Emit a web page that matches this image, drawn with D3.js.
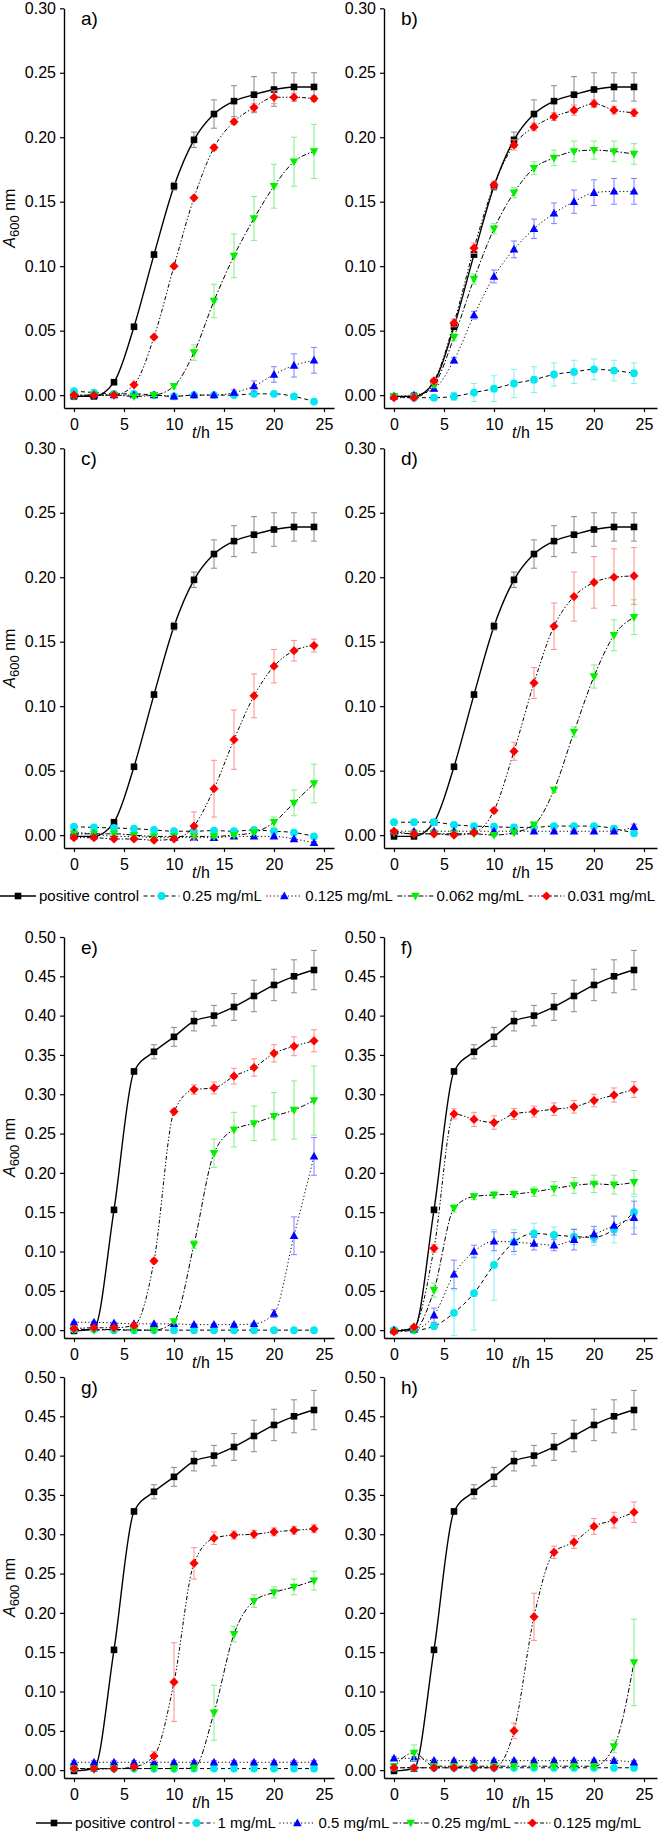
<!DOCTYPE html>
<html><head><meta charset="utf-8">
<script src="https://cdn.jsdelivr.net/npm/d3@7"></script>
<style>
body{margin:0;background:#fff;}
svg{display:block;font-family:"Liberation Sans",Arial,sans-serif;}
</style></head><body>
<svg id="chart" width="658" height="1834"></svg>
<script>
// ---------------- data ----------------
const timeH = [0,2,4,6,8,10,12,14,16,18,20,22,24];
const xTicks = [0,5,10,15,20,25];
const yTicksLow = [0,0.05,0.10,0.15,0.20,0.25,0.30];
const yTicksHigh = [0,0.05,0.10,0.15,0.20,0.25,0.30,0.35,0.40,0.45,0.50];
const legendTop = ["positive control","0.25 mg/mL","0.125 mg/mL","0.062 mg/mL","0.031 mg/mL"];
const legendBottom = ["positive control","1 mg/mL","0.5 mg/mL","0.25 mg/mL","0.125 mg/mL"];
const panelLabels = ["a)","b)","c)","d)","e)","f)","g)","h)"];

// positive controls
const ctrl1 = [-0.001,-0.001,0.010,0.053,0.109,0.162,0.198,0.218,0.228,0.233,0.237,0.239,0.239];
const ctrl1Err = [0.001,0.001,0.001,0.002,0.002,0.003,0.006,0.011,0.012,0.014,0.013,0.011,0.011];
const ctrl2 = [-0.001,0.002,0.153,0.329,0.354,0.373,0.393,0.400,0.411,0.425,0.439,0.450,0.458];
const ctrl2Err = [0.001,0.002,0.003,0.003,0.009,0.012,0.0125,0.013,0.017,0.020,0.020,0.021,0.025];

// panel a
const aCyan = [0.003,0.002,0.001,0.001,0.000,-0.001,0.000,0.000,0.000,0.001,0.001,-0.001,-0.005];
const aCyanErr = [0.001,0.001,0.001,0.001,0.001,0.001,0.001,0.001,0.001,0.001,0.001,0.001,0.001];
const aBlue = [0.000,0.000,0.000,0.000,0.000,-0.001,0.000,0.000,0.002,0.007,0.016,0.023,0.027];
const aBlueErr = [0.001,0.001,0.001,0.001,0.001,0.001,0.001,0.001,0.002,0.004,0.006,0.009,0.010];
const aGreen = [-0.001,0.000,0.000,-0.001,0.000,0.007,0.033,0.073,0.108,0.137,0.162,0.181,0.189];
const aGreenErr = [0.001,0.001,0.001,0.001,0.001,0.002,0.006,0.013,0.017,0.017,0.017,0.019,0.021];
const aRed = [0.000,0.000,0.000,0.008,0.045,0.100,0.153,0.192,0.212,0.223,0.231,0.231,0.230];
const aRedErr = [0.001,0.001,0.001,0.001,0.001,0.001,0.001,0.002,0.002,0.003,0.005,0.003,0.002];
// panel b
const bCyan = [-0.001,-0.002,-0.002,-0.001,0.002,0.005,0.009,0.012,0.016,0.018,0.020,0.019,0.017];
const bCyanErr = [0.002,0.002,0.002,0.003,0.007,0.010,0.011,0.010,0.009,0.009,0.008,0.008,0.008];
const bBlue = [-0.001,0.000,0.005,0.027,0.062,0.092,0.113,0.129,0.141,0.150,0.157,0.158,0.158];
const bBlueErr = [0.002,0.002,0.002,0.002,0.003,0.005,0.0065,0.0075,0.008,0.009,0.010,0.010,0.010];
const bGreen = [-0.001,-0.001,0.008,0.045,0.090,0.129,0.157,0.176,0.184,0.189,0.190,0.189,0.187];
const bGreenErr = [0.001,0.001,0.002,0.003,0.004,0.004,0.004,0.005,0.006,0.008,0.007,0.008,0.008];
const bRed = [-0.002,-0.002,0.011,0.056,0.114,0.163,0.194,0.208,0.216,0.221,0.226,0.221,0.219];
const bRedErr = [0.001,0.001,0.002,0.003,0.004,0.003,0.004,0.003,0.003,0.004,0.003,0.003,0.003];
// panel c
const cCyan = [0.0065,0.006,0.0055,0.005,0.004,0.003,0.003,0.0035,0.003,0.004,0.003,0.002,-0.001];
const cCyanErr = [0.001,0.001,0.001,0.001,0.001,0.001,0.001,0.001,0.001,0.001,0.001,0.001,0.001];
const cBlue = [0.002,0.001,-0.001,-0.001,-0.002,-0.002,-0.002,-0.002,-0.001,-0.001,-0.001,-0.003,-0.006];
const cBlueErr = [0.001,0.001,0.001,0.001,0.001,0.001,0.001,0.001,0.001,0.001,0.001,0.001,0.001];
const cGreen = [0.001,0.001,0.001,0.000,-0.001,-0.001,-0.001,-0.001,0.000,0.002,0.010,0.025,0.040];
const cGreenErr = [0.001,0.001,0.001,0.001,0.001,0.001,0.001,0.001,0.001,0.001,0.004,0.010,0.015];
const cRed = [-0.002,-0.002,-0.003,-0.003,-0.004,-0.003,0.007,0.036,0.074,0.108,0.131,0.143,0.147];
const cRedErr = [0.001,0.001,0.001,0.001,0.001,0.001,0.011,0.022,0.023,0.017,0.013,0.008,0.005];
// panel d
const dCyan = [0.010,0.010,0.010,0.008,0.007,0.0065,0.006,0.006,0.007,0.007,0.007,0.005,0.0015];
const dCyanErr = [0.002,0.002,0.002,0.002,0.002,0.002,0.002,0.002,0.002,0.002,0.002,0.002,0.002];
const dBlue = [0.003,0.003,0.003,0.003,0.003,0.003,0.003,0.003,0.003,0.003,0.003,0.003,0.0065];
const dBlueErr = [0.001,0.001,0.001,0.001,0.001,0.001,0.001,0.001,0.001,0.001,0.001,0.001,0.002];
const dGreen = [0.002,0.001,0.001,0.001,0.001,0.000,0.002,0.008,0.035,0.080,0.123,0.155,0.169];
const dGreenErr = [0.001,0.001,0.001,0.001,0.001,0.001,0.001,0.002,0.002,0.004,0.009,0.012,0.0135];
const dRed = [0.003,0.001,0.001,0.000,0.002,0.019,0.065,0.118,0.162,0.185,0.196,0.200,0.201];
const dRedErr = [0.001,0.001,0.001,0.001,0.001,0.002,0.007,0.012,0.018,0.019,0.020,0.022,0.022];
// panel e
const eCyan = [0.001,0.001,0.000,0.000,0.000,0.000,0.000,0.000,0.000,0.000,0.000,0.000,0.000];
const eCyanErr = [0.001,0.001,0.001,0.001,0.001,0.001,0.001,0.001,0.001,0.001,0.001,0.001,0.001];
const eBlue = [0.010,0.010,0.009,0.008,0.008,0.008,0.007,0.007,0.007,0.008,0.021,0.120,0.221];
const eBlueErr = [0.001,0.001,0.001,0.001,0.001,0.001,0.001,0.001,0.001,0.001,0.005,0.024,0.024];
const eGreen = [0.001,0.000,0.001,0.000,0.000,0.011,0.109,0.225,0.255,0.263,0.272,0.280,0.292];
const eGreenErr = [0.001,0.001,0.001,0.001,0.001,0.002,0.005,0.018,0.022,0.022,0.030,0.037,0.044];
const eRed = [0.002,0.003,0.003,0.006,0.088,0.278,0.306,0.308,0.323,0.334,0.352,0.361,0.368];
const eRedErr = [0.001,0.001,0.001,0.002,0.003,0.003,0.006,0.0075,0.010,0.011,0.011,0.012,0.014];
// panel f
const fCyan = [0.000,0.000,0.005,0.022,0.047,0.083,0.112,0.123,0.121,0.119,0.118,0.128,0.150];
const fCyanErr = [0.001,0.001,0.003,0.029,0.047,0.045,0.016,0.013,0.010,0.010,0.010,0.017,0.020];
const fBlue = [0.000,0.001,0.019,0.071,0.100,0.113,0.112,0.110,0.108,0.115,0.122,0.133,0.143];
const fBlueErr = [0.001,0.001,0.009,0.018,0.008,0.012,0.012,0.008,0.007,0.013,0.010,0.012,0.021];
const fGreen = [-0.002,0.000,0.051,0.155,0.170,0.172,0.173,0.176,0.180,0.184,0.186,0.185,0.188];
const fGreenErr = [0.001,0.001,0.009,0.005,0.004,0.004,0.004,0.006,0.009,0.010,0.011,0.012,0.015];
const fRed = [-0.002,0.004,0.104,0.275,0.268,0.264,0.275,0.278,0.281,0.284,0.292,0.299,0.306];
const fRedErr = [0.001,0.002,0.005,0.0065,0.009,0.0085,0.007,0.007,0.008,0.008,0.008,0.009,0.010];
// panel g
const gCyan = [0.002,0.002,0.002,0.002,0.002,0.002,0.002,0.002,0.002,0.002,0.002,0.002,0.002];
const gCyanErr = [0.001,0.001,0.001,0.001,0.001,0.001,0.001,0.001,0.001,0.001,0.001,0.001,0.001];
const gBlue = [0.010,0.010,0.010,0.010,0.010,0.010,0.010,0.010,0.010,0.010,0.010,0.010,0.010];
const gBlueErr = [0.002,0.002,0.002,0.002,0.002,0.002,0.002,0.002,0.002,0.002,0.002,0.002,0.002];
const gGreen = [0.002,0.001,0.002,0.002,0.002,0.002,0.003,0.073,0.173,0.215,0.226,0.233,0.241];
const gGreenErr = [0.001,0.001,0.001,0.001,0.001,0.001,0.002,0.035,0.010,0.008,0.007,0.010,0.012];
const gRed = [0.002,0.002,0.002,0.004,0.018,0.112,0.263,0.295,0.299,0.300,0.303,0.305,0.307];
const gRedErr = [0.001,0.001,0.001,0.002,0.006,0.050,0.020,0.008,0.005,0.005,0.005,0.005,0.005];
// panel h
const hCyan = [0.003,0.003,0.003,0.003,0.003,0.003,0.003,0.003,0.003,0.003,0.003,0.003,0.003];
const hCyanErr = [0.001,0.001,0.001,0.001,0.001,0.001,0.001,0.001,0.001,0.001,0.001,0.001,0.001];
const hBlue = [0.015,0.015,0.012,0.012,0.012,0.012,0.012,0.012,0.012,0.012,0.012,0.012,0.010];
const hBlueErr = [0.002,0.002,0.002,0.002,0.002,0.002,0.002,0.002,0.002,0.002,0.002,0.002,0.002];
const hGreen = [0.005,0.022,0.005,0.005,0.005,0.005,0.005,0.005,0.005,0.005,0.005,0.030,0.137];
const hGreenErr = [0.002,0.010,0.002,0.002,0.002,0.002,0.002,0.002,0.002,0.002,0.002,0.008,0.055];
const hRed = [0.003,0.003,0.003,0.003,0.003,0.003,0.050,0.195,0.277,0.290,0.310,0.318,0.328];
const hRedErr = [0.001,0.001,0.001,0.001,0.001,0.001,0.010,0.030,0.008,0.008,0.010,0.010,0.013];

// ---------------- styles ----------------
const styles = {
  ctrl:  {fill:"#000000", err:"#8a8a8a", dash:null, width:1.4, shape:"square"},
  cyan:  {fill:"#00e8f0", err:"#7ff0f4", dash:"4,3", width:1, shape:"circle"},
  blue:  {fill:"#0000ff", err:"#8080ff", dash:"1.2,2.4", width:1, shape:"up"},
  green: {fill:"#00f000", err:"#80f080", dash:"5,2,1.5,2", width:1, shape:"down"},
  red:   {fill:"#ff0000", err:"#ff8c8c", dash:"4,2,1.4,2,1.4,2", width:1, shape:"diamond"}
};
const order = ["ctrl","cyan","blue","green","red"];

const panels = [
  {col:0,row:0,ctrl:[ctrl1,ctrl1Err],cyan:[aCyan,aCyanErr],blue:[aBlue,aBlueErr],green:[aGreen,aGreenErr],red:[aRed,aRedErr]},
  {col:1,row:0,ctrl:[ctrl1,ctrl1Err],cyan:[bCyan,bCyanErr],blue:[bBlue,bBlueErr],green:[bGreen,bGreenErr],red:[bRed,bRedErr]},
  {col:0,row:1,ctrl:[ctrl1,ctrl1Err],cyan:[cCyan,cCyanErr],blue:[cBlue,cBlueErr],green:[cGreen,cGreenErr],red:[cRed,cRedErr]},
  {col:1,row:1,ctrl:[ctrl1,ctrl1Err],cyan:[dCyan,dCyanErr],blue:[dBlue,dBlueErr],green:[dGreen,dGreenErr],red:[dRed,dRedErr]},
  {col:0,row:2,ctrl:[ctrl2,ctrl2Err],cyan:[eCyan,eCyanErr],blue:[eBlue,eBlueErr],green:[eGreen,eGreenErr],red:[eRed,eRedErr]},
  {col:1,row:2,ctrl:[ctrl2,ctrl2Err],cyan:[fCyan,fCyanErr],blue:[fBlue,fBlueErr],green:[fGreen,fGreenErr],red:[fRed,fRedErr]},
  {col:0,row:3,ctrl:[ctrl2,ctrl2Err],cyan:[gCyan,gCyanErr],blue:[gBlue,gBlueErr],green:[gGreen,gGreenErr],red:[gRed,gRedErr]},
  {col:1,row:3,ctrl:[ctrl2,ctrl2Err],cyan:[hCyan,hCyanErr],blue:[hBlue,hBlueErr],green:[hGreen,hGreenErr],red:[hRed,hRedErr]}
];

// ---------------- layout ----------------
const cols = [{x0:64,x1:334,dmax:26},{x0:384,x1:657,dmax:26.3}];
const rows = [
  {top:8.3,bot:408,ymax:0.30,ticks:yTicksLow},
  {top:448.3,bot:848,ymax:0.30,ticks:yTicksLow},
  {top:937,bot:1338,ymax:0.50,ticks:yTicksHigh},
  {top:1377,bot:1778,ymax:0.50,ticks:yTicksHigh}
];

const svg = d3.select("#chart");

function markerPath(shape){
  const p = d3.path();
  if(shape==="square"){ const s=3.3; p.rect(-s,-s,2*s,2*s); }
  else if(shape==="circle"){ p.arc(0,0,3.9,0,2*Math.PI); }
  else if(shape==="up"){ p.moveTo(0,-4.6); p.lineTo(4.3,3.2); p.lineTo(-4.3,3.2); p.closePath(); }
  else if(shape==="down"){ p.moveTo(0,4.6); p.lineTo(4.3,-3.2); p.lineTo(-4.3,-3.2); p.closePath(); }
  else if(shape==="diamond"){ p.moveTo(0,-4.6); p.lineTo(4.6,0); p.lineTo(0,4.6); p.lineTo(-4.6,0); p.closePath(); }
  return p.toString();
}

function drawPanel(p, idx){
  const c = cols[p.col], r = rows[p.row];
  const x = d3.scaleLinear().domain([-1,c.dmax]).range([c.x0,c.x1]);
  const y = d3.scaleLinear().domain([-0.01,r.ymax]).range([r.bot,r.top]);
  const g = svg.append("g");

  // axes
  const ax = g.append("g").attr("transform",`translate(0,${r.bot})`)
    .call(d3.axisBottom(x).tickValues(xTicks).tickSize(4).tickSizeOuter(0).tickPadding(7).tickFormat(d3.format("d")));
  const ay = g.append("g").attr("transform",`translate(${c.x0},0)`)
    .call(d3.axisLeft(y).tickValues(r.ticks).tickSize(4).tickSizeOuter(0).tickPadding(4).tickFormat(d3.format(".2f")));
  [ax,ay].forEach(a=>{
    a.select(".domain").attr("stroke","#000").attr("stroke-width",1.4);
    a.selectAll(".tick line").attr("stroke","#000").attr("stroke-width",1.2);
    a.selectAll(".tick text").attr("fill","#000").style("font-size","16px").style("font-family","'Liberation Sans',Arial,sans-serif");
  });

  // x label
  const xl = g.append("text").attr("x",x(12.7)).attr("y",r.bot+30).attr("text-anchor","middle")
    .style("font-size","16px").attr("fill","#000");
  xl.append("tspan").attr("font-style","italic").text("t");
  xl.append("tspan").text("/h");

  // y label (left column only)
  if(p.col===0){
    const cy = (r.top+r.bot)/2 + 10;
    const yl = g.append("text").attr("transform",`translate(15,${cy}) rotate(-90)`).attr("text-anchor","middle")
      .style("font-size","16px").attr("fill","#000");
    yl.append("tspan").attr("font-style","italic").text("A");
    yl.append("tspan").attr("dy",4).style("font-size","13px").text("600");
    yl.append("tspan").attr("dy",-4).text(" nm");
  }

  // panel label
  g.append("text").attr("x",c.x0+17).attr("y",r.top+17).style("font-size","19px").attr("fill","#000").text(panelLabels[idx]);

  const line = d3.line().x(d=>x(d.t)).y(d=>y(d.v)).curve(d3.curveMonotoneX);

  order.forEach(key=>{
    const st = styles[key];
    const vals = p[key][0], errs = p[key][1];
    const pts = timeH.map((t,i)=>({t:t,v:vals[i],e:errs[i]}));
    const sg = g.append("g");
    sg.append("path").datum(pts).attr("d",line).attr("fill","none").attr("stroke","#000")
      .attr("stroke-width",st.width).attr("stroke-dasharray",st.dash);
    // error bars
    const eb = sg.selectAll(".eb").data(pts).join("g").attr("stroke",st.err).attr("stroke-width",1);
    eb.append("line").attr("x1",d=>x(d.t)).attr("x2",d=>x(d.t)).attr("y1",d=>y(d.v-d.e)).attr("y2",d=>y(d.v+d.e));
    eb.append("line").attr("x1",d=>x(d.t)-3).attr("x2",d=>x(d.t)+3).attr("y1",d=>y(d.v+d.e)).attr("y2",d=>y(d.v+d.e));
    eb.append("line").attr("x1",d=>x(d.t)-3).attr("x2",d=>x(d.t)+3).attr("y1",d=>y(d.v-d.e)).attr("y2",d=>y(d.v-d.e));
    sg.selectAll(".mk").data(pts).join("path").attr("d",markerPath(st.shape))
      .attr("transform",d=>`translate(${x(d.t)},${y(d.v)})`).attr("fill",st.fill);
  });
}
panels.forEach(drawPanel);

// ---------------- legends ----------------
function drawLegend(labels, yPos, xStart, xEnd){
  const g = svg.append("g");
  const sampleW = 36, gapT = 3;
  const items = labels.map((lab,i)=>{
    const t = g.append("text").attr("y",yPos+5).style("font-size","15px").attr("fill","#000").text(lab);
    return {lab:lab,key:order[i],node:t,w:t.node().getComputedTextLength()};
  });
  const natural = d3.sum(items,d=>d.w) + items.length*(sampleW+gapT);
  const gap = (xEnd-xStart-natural)/(items.length-1);
  let cx = xStart;
  items.forEach(it=>{
    const st = styles[it.key];
    g.append("line").attr("x1",cx).attr("x2",cx+sampleW).attr("y1",yPos).attr("y2",yPos)
      .attr("stroke","#000").attr("stroke-width",st.width).attr("stroke-dasharray",st.dash);
    g.append("path").attr("d",markerPath(st.shape)).attr("transform",`translate(${cx+sampleW/2},${yPos})`).attr("fill",st.fill);
    it.node.attr("x",cx+sampleW+gapT);
    cx += sampleW+gapT+it.w+gap;
  });
}
drawLegend(legendTop, 896, 0, 655);
drawLegend(legendBottom, 1823, 36, 641);
</script>
</body></html>
